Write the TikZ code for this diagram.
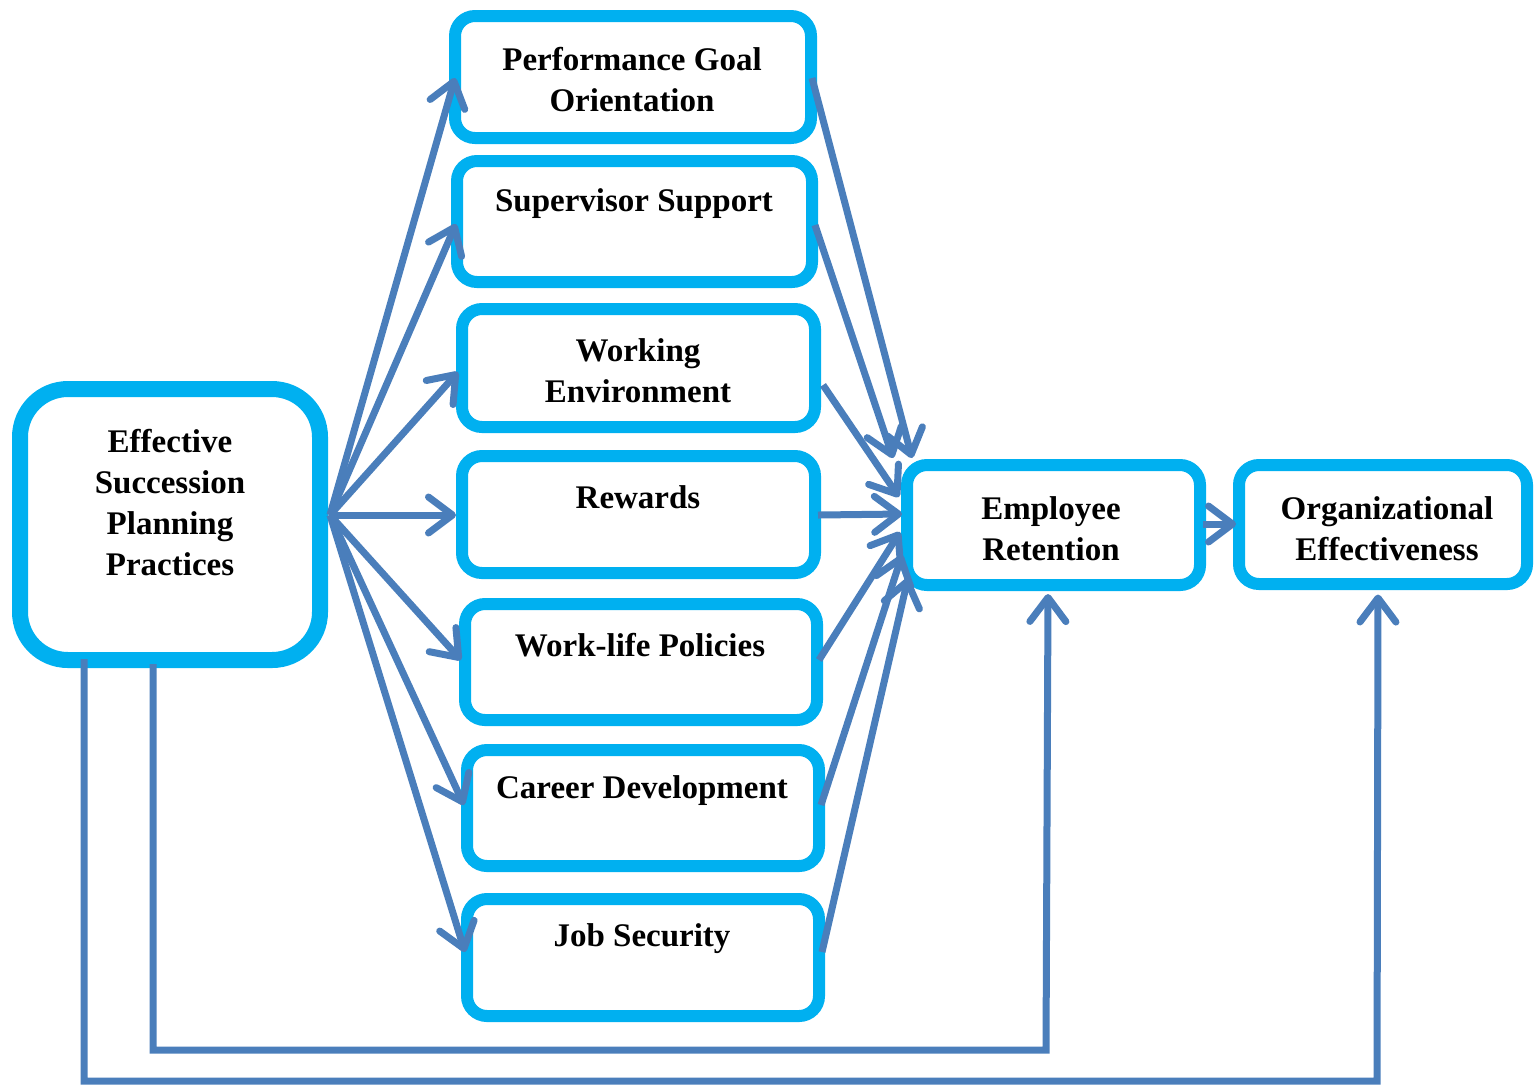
\documentclass[tikz,border=0pt]{standalone}
\usepackage{fontspec}
\setmainfont{Liberation Serif}
\usetikzlibrary{arrows.meta,calc}
\definecolor{boxcyan}{HTML}{00B0F0}
\definecolor{arrowblue}{HTML}{4A7EBB}
\begin{document}
\begin{tikzpicture}[x=0.5pt,y=-0.5pt,
  box/.style={draw=boxcyan, line width=6pt, rounded corners=10pt, fill=white, inner sep=0pt, outer sep=0pt, shape=rectangle},
  bigbox/.style={box, line width=8pt, rounded corners=24pt},
  lbl/.style={align=center, inner sep=0pt, font=\fontsize{16.5}{20.5}\selectfont\bfseries},
  arr/.style={draw=arrowblue, line width=3.5pt, -{Straight Barb[length=12pt,width=18pt,round]}},
  feed/.style={draw=arrowblue, line width=3.5pt, line join=miter, -{Straight Barb[length=12pt,width=18pt,round]}}
]
\useasboundingbox (0,0) rectangle (1534,1084);
% boxes
\node[bigbox, minimum width=150pt, minimum height=135.5pt] (espp) at (170,524.5) {};
\node[box, minimum width=178pt, minimum height=61pt] (pgo) at (633,77) {};
\node[box, minimum width=177.5pt, minimum height=60.5pt] (ss) at (634.5,221.5) {};
\node[box, minimum width=176.5pt, minimum height=59pt] (we) at (638.5,368) {};
\node[box, minimum width=176.5pt, minimum height=58.5pt] (rw) at (638.5,514.5) {};
\node[box, minimum width=176pt, minimum height=58pt] (wl) at (641,662) {};
\node[box, minimum width=176pt, minimum height=58pt] (cd) at (643,808) {};
\node[box, minimum width=176pt, minimum height=58.5pt] (js) at (643,957.5) {};
\node[box, minimum width=146.5pt, minimum height=60pt] (er) at (1053.5,525) {};
\node[box, minimum width=144pt, minimum height=59.5pt] (oe) at (1383,524.5) {};
% labels
\node[lbl] (tespp) at (170,503) {Effective\\Succession\\Planning\\Practices};
\node[lbl] (tpgo) at (632,80) {Performance Goal\\Orientation};
\node[lbl] (tss) at (634,204) {Supervisor Support};
\node[lbl] (twe) at (638,371) {Working\\Environment};
\node[lbl] (trw) at (638,497) {Rewards};
\node[lbl] (twl) at (640,645) {Work-life Policies};
\node[lbl] (tcd) at (642,791) {Career Development};
\node[lbl] (tjs) at (642,939) {Job Security};
\node[lbl] (ter) at (1051,529) {Employee\\Retention};
\node[lbl] (toe) at (1387,529) {Organizational\\Effectiveness};
% fan-out from ESPP
\coordinate (o) at ($(espp.east)+(10,-9.5)$);
\draw[arr] (o) -- ($(pgo.west)+(0,1)$);
\draw[arr] (o) -- ($(ss.west)+(-1,2.5)$);
\draw[arr] (o) -- ($(we.west)+(-4,4)$);
\draw[arr] (o) -- ($(rw.west)+(-6,0.5)$);
\draw[arr] (o) -- ($(wl.west)+(-4,-2)$);
\draw[arr] (o) -- ($(cd.west)+(-3,-3)$);
\draw[arr] (o) -- ($(js.west)+(-2,-5.5)$);
% fan-in to ER
\draw[arr] ($(pgo.east)+(1,1)$) -- ($(er.north west)+(5,-7)$);
\draw[arr] ($(ss.east)+(3,3.5)$) -- ($(er.north west)+(-14,-7)$);
\draw[arr] ($(we.east)+(8,17)$) -- ($(er.west)+(-8,-28)$);
\draw[arr] ($(rw.east)+(3,0.5)$) -- ($(er.west)+(-5,-11)$);
\draw[arr] ($(wl.east)+(2,-2)$) -- ($(er.west)+(-7,7)$);
\draw[arr] ($(cd.east)+(2,-3)$) -- ($(er.west)+(-5,30)$);
\draw[arr] ($(js.east)+(3,-5.5)$) -- ($(er.west)+(1,53)$);
% ER to OE
\draw[arr] ($(er.east)+(3,-1)$) -- ($(oe.west)+(-3,-0.5)$);
% feedback lines
\coordinate (a1) at ($(espp.south west)+(64,-1)$);
\coordinate (a2) at (84,1081);
\coordinate (a3) at (1377,1081);
\draw[feed] (a1) -- (a2) -- (a3) -- ($(oe.south)+(-5,10.5)$);
\coordinate (b1) at ($(espp.south west)+(133,4)$);
\coordinate (b2) at (153,1050);
\coordinate (b3) at (1046,1050);
\draw[feed] (b1) -- (b2) -- (b3) -- ($(er.south)+(-5.5,9)$);
\end{tikzpicture}
\end{document}
